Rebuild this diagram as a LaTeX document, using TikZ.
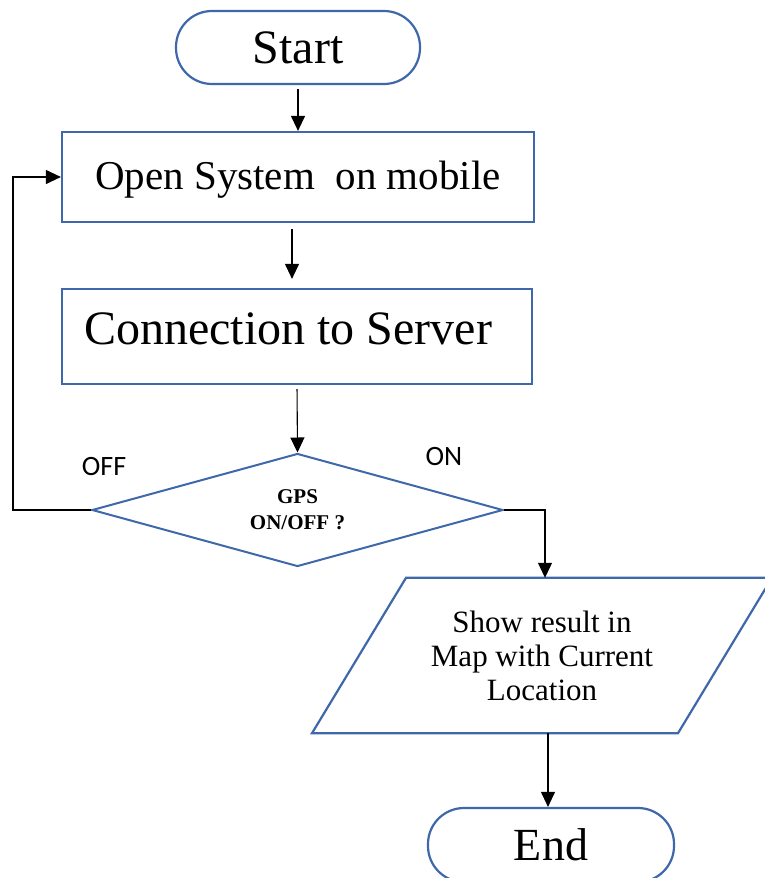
\documentclass[tikz,border=0pt]{standalone}
\usepackage{fontspec}
\setmainfont{Liberation Serif}
\newfontfamily\calib{Carlito}
\usetikzlibrary{shapes.geometric,arrows.meta}
\definecolor{bdr}{RGB}{62,104,170}
\begin{document}
\begin{tikzpicture}[x=1pt,y=-1pt,
 term/.style={draw=bdr,line width=2.2pt,rounded corners=36pt,minimum width=244pt,minimum height=73pt,inner sep=0pt},
 procbox/.style={draw=bdr,line width=2.2pt,minimum width=472pt,minimum height=90pt,inner sep=0pt},
 arr/.style={-{Triangle[length=15pt,width=14pt]},line width=1.1pt,black},
 lbl/.style={font=\calib\fontsize{28}{30}\selectfont},
 outline/.style={draw=bdr,line width=2.2pt}]
\clip (0,0) rectangle (765,878);
\useasboundingbox (0,0) rectangle (765,878);
\node[term,font=\fontsize{48}{50}\selectfont] (start) at (298,47.5) {Start};
\node[procbox,font=\fontsize{41}{44}\selectfont,text depth=0pt,text height=24pt] (open) at (298,177) {Open System\ \ on mobile};
\node[procbox,minimum width=470pt,minimum height=95pt,font=\fontsize{48}{50}\selectfont,text height=32pt,text depth=17pt] (conn) at (297,336.5) {Connection to Server\kern18pt};
\node[diamond,outline,line width=2pt,minimum width=411pt,minimum height=113pt,aspect=3.6,inner sep=0pt,align=center,font=\bfseries\fontsize{21}{26}\selectfont] (gps) at (297.5,510) {GPS\\ON/OFF ?};
\node[minimum width=456pt,minimum height=155pt,inner sep=0pt,align=center,font=\fontsize{31}{34}\selectfont] (res) at (542,655.5) {Show result in\\Map with Current\\Location};
\draw[outline] ([xshift=-136pt]res.north) -- ([xshift=230pt]res.north) -- ([xshift=136pt]res.south) -- ([xshift=-230pt]res.south) -- cycle;
\node[term,minimum width=246pt,minimum height=74pt,font=\fontsize{46}{50}\selectfont] (end) at (551,845) {End};
\node[lbl] (off) at (104,467) {OFF};
\node[lbl] (on) at (444,457) {ON};
\draw[arr,shorten <=4pt] (start.south) -- (open.north);
\draw[arr,shorten <=6pt] ([xshift=-6pt]open.south) -- ([xshift=-6pt,yshift=9pt]open.south |- conn.north);
\draw[arr,shorten <=4pt] (conn.south) -- (gps.north);
\draw[arr] (gps.west) -- ++(-78,0) |- (open.west);
\draw[arr] (gps.east) -| ([xshift=3pt]res.north);
\draw[arr] ([xshift=6pt]res.south) -- ([xshift=6pt]res.south |- end.north);
\end{tikzpicture}
\end{document}
